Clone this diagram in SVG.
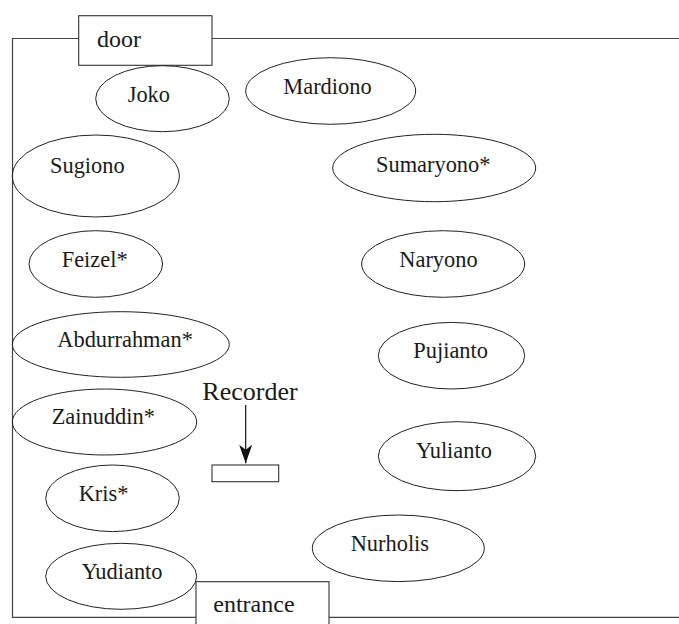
<svg xmlns="http://www.w3.org/2000/svg" width="679" height="624" viewBox="0 0 679 624">
<style>
.room{fill:none;stroke:#444;stroke-width:1.2}
.box{fill:#fff;stroke:#333;stroke-width:1.1}
.node ellipse{fill:none;stroke:#222;stroke-width:1}
text{font-family:"Liberation Serif","Times New Roman",serif;fill:#1a1a1a}
.name{font-size:22.4px}
.lbl{font-size:24px}
.rec{font-size:26px}
</style>
<defs>
<marker id="ah" markerWidth="19" markerHeight="14" refX="18.5" refY="7" orient="auto" markerUnits="userSpaceOnUse" viewBox="0 0 19 14">
<path d="M0,0.5 L18.5,7 L0,13.5 L5,7 Z" fill="#111"/>
</marker>
</defs>
<rect width="679" height="624" fill="#fff"/>
<path class="room" d="M679,38.5 H12.5 V617.3 H679"/>
<g id="door"><rect class="box" x="78.7" y="15.7" width="133.3" height="49.6"/><text class="lbl" x="97" y="46.7">door</text></g>
<g id="entrance"><rect class="box" x="196" y="581.7" width="133" height="50"/><text class="lbl" x="213.3" y="612.3">entrance</text></g>
<g id="joko" class="node"><ellipse cx="162.5" cy="98.7" rx="66.8" ry="33"/><text class="name" x="127.7" y="101.7">Joko</text></g>
<g id="mardiono" class="node"><ellipse cx="330.7" cy="91" rx="85" ry="33.3"/><text class="name" x="283.3" y="94.3">Mardiono</text></g>
<g id="sugiono" class="node"><ellipse cx="95.8" cy="176" rx="83.5" ry="41"/><text class="name" x="50" y="173.3">Sugiono</text></g>
<g id="sumaryono" class="node"><ellipse cx="434.2" cy="168" rx="101.5" ry="33.7"/><text class="name" x="376" y="171.7">Sumaryono*</text></g>
<g id="feizel" class="node"><ellipse cx="95.8" cy="264" rx="66.8" ry="33.3"/><text class="name" x="61.7" y="266.7">Feizel*</text></g>
<g id="naryono" class="node"><ellipse cx="443.2" cy="264" rx="81.5" ry="33.3"/><text class="name" x="399.3" y="266.7">Naryono</text></g>
<g id="abdurrahman" class="node"><ellipse cx="120.8" cy="344.5" rx="108.5" ry="32.8"/><text class="name" x="57.3" y="346.7">Abdurrahman*</text></g>
<g id="pujianto" class="node"><ellipse cx="451.5" cy="355.7" rx="73.2" ry="33.3"/><text class="name" x="413.3" y="358.3">Pujianto</text></g>
<g id="zainuddin" class="node"><ellipse cx="104.5" cy="422" rx="92.2" ry="33"/><text class="name" x="51.7" y="424">Zainuddin*</text></g>
<g id="yulianto" class="node"><ellipse cx="457" cy="456.2" rx="78.7" ry="34.5"/><text class="name" x="416" y="458.3">Yulianto</text></g>
<g id="kris" class="node"><ellipse cx="112.5" cy="498.3" rx="66.8" ry="33.3"/><text class="name" x="78.7" y="500.7">Kris*</text></g>
<g id="nurholis" class="node"><ellipse cx="398.3" cy="548.3" rx="86" ry="33.3"/><text class="name" x="350.7" y="550.7">Nurholis</text></g>
<g id="yudianto" class="node"><ellipse cx="121.2" cy="576.3" rx="75.5" ry="33"/><text class="name" x="81.7" y="579">Yudianto</text></g>
<g id="recorder"><text class="rec" x="202.3" y="400">Recorder</text><rect class="box" x="212" y="465" width="66.7" height="16.7"/></g>
<g id="connectors"><line x1="245.7" y1="405" x2="245.7" y2="463.3" stroke="#111" stroke-width="1.2" marker-end="url(#ah)"/></g>
</svg>
